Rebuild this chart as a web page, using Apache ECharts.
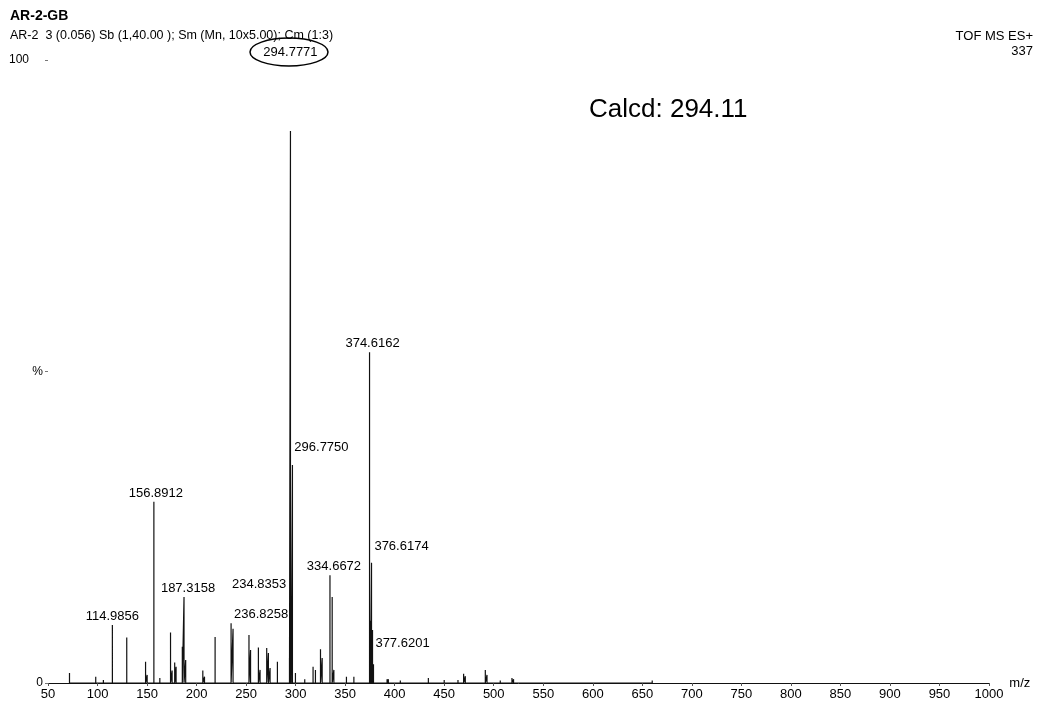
<!DOCTYPE html>
<html>
<head>
<meta charset="utf-8">
<script src="https://cdn.jsdelivr.net/npm/echarts@6/dist/echarts.min.js"></script>
<style>
  html, body { margin: 0; padding: 0; background: #fff; }
  #chart { width: 1037px; height: 706px; }
</style>
</head>
<body>
<div id="chart"></div>
<script>
// peak list (m/z, relative intensity %)
const peakMz = [
  71.7, 98.2, 105.9, 114.9856, 129.5, 148.5, 150.1, 156.8912, 162.9,
  173.7, 175.3, 177.9, 179.3, 185.6, 187.3158, 189.0, 206.3, 208.0, 218.7,
  234.8353, 236.8258, 252.9, 254.5, 262.4, 264.1, 270.8, 272.5, 274.2, 281.6,
  293.8, 294.7771, 295.5, 296.7750, 299.8, 309.2, 317.6, 320.0, 325.1, 326.8,
  334.6672, 336.9, 338.6, 351.3, 358.8, 374.6162, 375.6, 376.6174, 377.6201,
  378.6, 392.3, 393.6, 405.7, 434.0, 450.0, 463.9, 469.6, 471.3, 491.5,
  493.2, 506.6, 518.4, 520.0, 558.0, 632.0, 660.0
];
const peakIntensity = [
  1.6, 1.0, 0.5, 9.3, 7.3, 3.4, 1.3, 29.1, 0.8,
  8.1, 2.0, 3.3, 2.6, 5.8, 13.8, 3.7, 2.0, 1.0, 7.4,
  9.6, 8.7, 7.7, 5.3, 5.7, 2.1, 5.6, 4.8, 2.4, 3.4,
  4.0, 88.6, 9.0, 35.0, 1.6, 0.6, 2.6, 2.1, 5.4, 4.0,
  17.3, 13.8, 2.1, 1.0, 1.0, 53.1, 10.0, 19.3, 8.5,
  3.0, 0.6, 0.6, 0.4, 0.8, 0.5, 0.5, 1.5, 1.1, 2.1,
  1.3, 0.4, 0.8, 0.6, 0.3, 0.3, 0.4
];

// annotated peaks
const labelMz = [114.9856, 156.8912, 187.3158, 234.8353, 236.8258, 294.7771,
  296.7750, 334.6672, 374.6162, 376.6174, 377.6201];
const labelIntensity = [9.3, 29.1, 13.8, 9.6, 8.7, 88.6, 35.0, 17.3, 53.1, 19.3, 8.5];
const labelOffsets = [[0, 0], [2, 0], [4, 0], [28, -30], [28, -6], [0, -70],
  [29, -9], [4, 0], [3, 0], [30, -8], [30, 22]];

const yTickText = { 0: '0', 50: '%', 100: '100' };

const FONT = '"Liberation Sans", Arial, sans-serif';

// stick spectrum: each peak goes baseline -> top -> baseline
const stickData = [];
peakMz.forEach((mz, i) => {
  stickData.push([mz, 0], [mz, peakIntensity[i]], [mz, 0]);
});

const chart = echarts.init(document.getElementById('chart'));

const option = {
  backgroundColor: '#fff',
  animation: false,
  grid: { left: 48, right: 48, top: 60, bottom: 23 },
  xAxis: {
    type: 'value',
    min: 50,
    max: 1000,
    interval: 50,
    name: 'm/z',
    nameLocation: 'end',
    nameGap: 18,
    nameTextStyle: { fontFamily: FONT, fontSize: 13, color: '#000', verticalAlign: 'middle', padding: [0, 0, 4, 0] },
    axisLine: { lineStyle: { color: '#111', width: 1 } },
    axisTick: { length: 3, lineStyle: { color: '#555' } },
    axisLabel: { fontFamily: FONT, fontSize: 13, color: '#000', margin: 5, formatter: v => String(v) },
    splitLine: { show: false }
  },
  yAxis: {
    type: 'value',
    min: 0,
    max: 100,
    interval: 50,
    axisLine: { show: false },
    axisTick: { show: true, length: 3, lineStyle: { color: '#777' } },
    splitLine: { show: false },
    axisLabel: {
      fontFamily: FONT,
      fontSize: 12,
      color: '#000',
      margin: 5,
      formatter: v => v === 100 ? '{t|100}' : yTickText[v],
      rich: { t: { fontFamily: FONT, fontSize: 12, color: '#000', padding: [0, 14, 0, 0] } }
    }
  },
  graphic: [
    { type: 'text', left: 10, top: 9, style: { text: 'AR-2-GB', font: 'bold 14px ' + FONT, fill: '#000' } },
    { type: 'text', left: 10, top: 29, style: { text: 'AR-2  3 (0.056) Sb (1,40.00 ); Sm (Mn, 10x5.00); Cm (1:3)', font: '12.5px ' + FONT, fill: '#000' } },
    { type: 'text', right: 4, top: 30, style: { text: 'TOF MS ES+', font: '13px ' + FONT, fill: '#000', align: 'right' } },
    { type: 'text', right: 4, top: 45, style: { text: '337', font: '13px ' + FONT, fill: '#000', align: 'right' } },
    { type: 'text', left: 589, top: 97, style: { text: 'Calcd: 294.11', font: '26px ' + FONT, fill: '#000' } },
    { type: 'ellipse', shape: { cx: 289, cy: 52, rx: 39, ry: 14 }, style: { fill: 'none', stroke: '#000', lineWidth: 1.5 } }
  ],
  series: [
    {
      type: 'line',
      data: stickData,
      showSymbol: false,
      lineStyle: { color: '#111', width: 1.2 },
      z: 3
    },
    {
      type: 'scatter',
      symbolSize: 0,
      silent: true,
      itemStyle: { opacity: 1 },
      data: labelMz.map((mz, i) => ({
        value: [mz, labelIntensity[i]],
        label: { offset: labelOffsets[i] }
      })),
      label: {
        show: true,
        position: 'top',
        distance: 2,
        fontFamily: FONT,
        fontSize: 13,
        color: '#000',
        formatter: p => p.value[0].toFixed(4)
      },
      z: 4
    }
  ]
};

chart.setOption(option);
</script>
</body>
</html>
